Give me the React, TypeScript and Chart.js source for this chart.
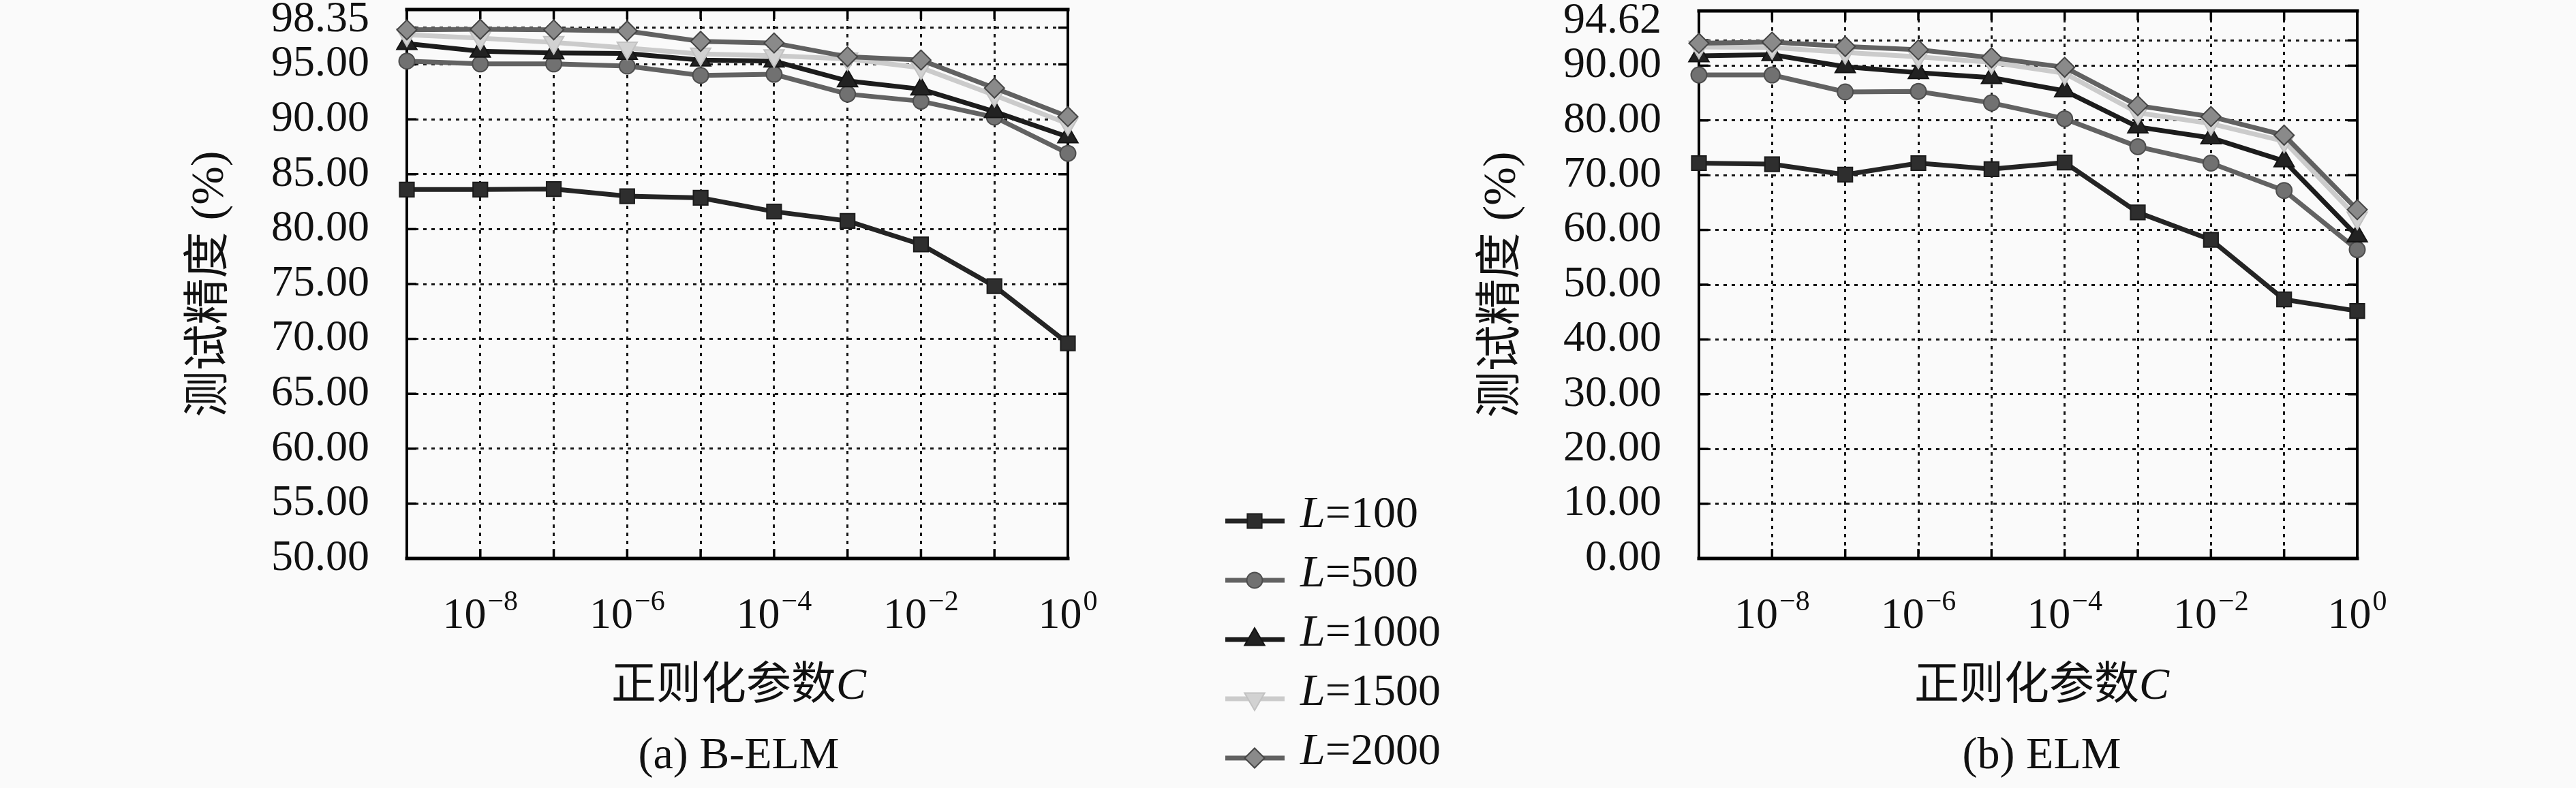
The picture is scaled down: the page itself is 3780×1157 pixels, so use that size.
import React, { useEffect, useRef } from "react";
import { Chart, registerables } from "chart.js";
import { drawPoint } from "chart.js/helpers";

Chart.register(...registerables);

// C = 10^exp
const exponents = [-9, -8, -7, -6, -5, -4, -3, -2, -1, 0];
const xLabelExps = [-8, -6, -4, -2, 0];
const hiddenNodes = ["100", "500", "1000", "1500", "2000"];

// (a) B-ELM
const belm100 = [83.6, 83.6, 83.65, 83.0, 82.85, 81.6, 80.75, 78.6, 74.8, 69.6];
const belm500 = [95.3, 95.05, 95.05, 94.85, 94.0, 94.1, 92.3, 91.65, 90.2, 86.9];
const belm1000 = [96.9, 96.2, 96.05, 96.0, 95.4, 95.3, 93.5, 92.75, 90.7, 88.4];
const belm1500 = [97.7, 97.4, 97.0, 96.5, 95.95, 95.8, 95.5, 94.7, 92.2, 89.6];
const belm2000 = [98.15, 98.2, 98.15, 98.05, 97.1, 96.95, 95.7, 95.4, 92.85, 90.25];
const belmTicks = [50, 55, 60, 65, 70, 75, 80, 85, 90, 95, 98.35];

// (b) ELM
const elm100 = [72.2, 72.0, 70.1, 72.2, 71.1, 72.3, 63.2, 58.2, 47.3, 45.2];
const elm500 = [88.3, 88.3, 85.2, 85.3, 83.2, 80.3, 75.2, 72.2, 67.2, 56.4];
const elm1000 = [91.8, 92.0, 89.8, 88.7, 87.8, 85.4, 78.8, 76.8, 72.6, 58.9];
const elm1500 = [93.4, 93.3, 92.4, 91.6, 90.6, 88.6, 81.4, 79.4, 76.2, 62.2];
const elm2000 = [94.1, 94.3, 93.5, 92.9, 91.45, 89.7, 82.7, 80.7, 77.3, 63.7];
const elmTicks = [0, 10, 20, 30, 40, 50, 60, 70, 80, 90, 94.62];

const SERIF = "'Liberation Serif', 'Noto Sans CJK SC', serif";
const CJK = "'Noto Sans CJK SC', 'Liberation Serif', sans-serif";

const looks = [
  { line: "#242424", fill: "#2e2e2e", edge: "#1c1c1c", style: "rect", r: 15, rot: 0 },
  { line: "#626262", fill: "#717171", edge: "#4e4e4e", style: "circle", r: 11.5, rot: 0 },
  { line: "#1c1c1c", fill: "#222222", edge: "#141414", style: "triangle", r: 17, rot: 0 },
  { line: "#cbcbcb", fill: "#d2d2d2", edge: "#c2c2c2", style: "triangle", r: 17, rot: 180 },
  { line: "#616161", fill: "#8a8a8a", edge: "#454545", style: "rectRot", r: 14.5, rot: 0 },
];

function makeDatasets(series: number[][]) {
  return series.map((vals, i) => ({
    label: "L=" + hiddenNodes[i],
    data: vals.map((v, j) => ({ x: exponents[j], y: v })),
    borderColor: looks[i].line,
    backgroundColor: looks[i].fill,
    borderWidth: 7,
    pointStyle: looks[i].style,
    pointRadius: looks[i].r,
    pointRotation: looks[i].rot,
    pointBackgroundColor: looks[i].fill,
    pointBorderColor: looks[i].edge,
    pointBorderWidth: 2,
    tension: 0,
    clip: false,
    order: 4 - i,
  }));
}

// frame, inner tick marks, superscript tick labels, titles and legend
const decor = {
  id: "decor",
  beforeDatasetsDraw(chart: any) {
    const { ctx, chartArea: a, scales } = chart;
    const seg = (x1: number, y1: number, x2: number, y2: number) => {
      ctx.beginPath();
      ctx.moveTo(x1, y1);
      ctx.lineTo(x2, y2);
      ctx.stroke();
    };
    ctx.save();
    ctx.setLineDash([]);
    ctx.strokeStyle = "#000";
    ctx.lineWidth = 3.5;
    const tl = 14;
    scales.x.ticks.forEach((t: any) => {
      const x = scales.x.getPixelForValue(t.value);
      seg(x, a.bottom, x, a.bottom - tl);
      seg(x, a.top, x, a.top + tl);
    });
    scales.y.ticks.forEach((t: any) => {
      const y = scales.y.getPixelForValue(t.value);
      seg(a.left, y, a.left + tl, y);
      seg(a.right, y, a.right - tl, y);
    });
    ctx.lineCap = "square";
    ctx.lineWidth = 5;
    seg(a.left, a.top, a.right, a.top);
    seg(a.left, a.bottom, a.right, a.bottom);
    ctx.lineWidth = 4;
    seg(a.left, a.top, a.left, a.bottom);
    seg(a.right, a.top, a.right, a.bottom);
    ctx.restore();
  },
  afterDraw(chart: any, _args: any, opts: any) {
    const { ctx, chartArea: a, scales } = chart;
    ctx.save();
    ctx.fillStyle = "#111";
    ctx.textBaseline = "alphabetic";
    ctx.textAlign = "left";

    // x tick labels 10^n
    xLabelExps.forEach((e) => {
      const x = scales.x.getPixelForValue(e);
      const sup = e === 0 ? "0" : "\u2212" + Math.abs(e);
      ctx.font = "64px " + SERIF;
      const w1 = ctx.measureText("10").width;
      ctx.font = "42px " + SERIF;
      const w2 = ctx.measureText(sup).width;
      const x0 = x - (w1 + w2 + 2) / 2;
      ctx.font = "64px " + SERIF;
      ctx.fillText("10", x0, a.bottom + 102);
      ctx.font = "42px " + SERIF;
      ctx.fillText(sup, x0 + w1 + 2, a.bottom + 76);
    });

    const cx = (a.left + a.right) / 2 + (opts.dx || 0);

    // x title: 正则化参数C
    ctx.font = "66px " + CJK;
    const t1 = "正则化参数";
    const tw1 = ctx.measureText(t1).width;
    ctx.font = "italic 66px " + SERIF;
    const tw2 = ctx.measureText("C").width;
    const tx = cx - (tw1 + tw2) / 2;
    ctx.font = "66px " + CJK;
    ctx.fillText(t1, tx, a.bottom + 206);
    ctx.font = "italic 66px " + SERIF;
    ctx.fillText("C", tx + tw1, a.bottom + 206);

    // caption
    ctx.font = "66px " + SERIF;
    ctx.textAlign = "center";
    ctx.fillText(opts.caption, cx, a.bottom + 308);

    // legend
    if (opts.legend) {
      const lx = opts.legend.x;
      chart.data.datasets.forEach((ds: any, i: number) => {
        const y = opts.legend.y + i * opts.legend.step;
        ctx.setLineDash([]);
        ctx.strokeStyle = ds.borderColor;
        ctx.lineWidth = ds.borderWidth;
        ctx.beginPath();
        ctx.moveTo(lx, y);
        ctx.lineTo(lx + 87, y);
        ctx.stroke();
        ctx.fillStyle = ds.pointBackgroundColor;
        ctx.strokeStyle = ds.pointBorderColor;
        ctx.lineWidth = ds.pointBorderWidth;
        drawPoint(
          ctx,
          { pointStyle: ds.pointStyle, rotation: ds.pointRotation, radius: ds.pointRadius, borderWidth: ds.pointBorderWidth },
          lx + 43,
          y
        );
        const [name, rest] = ds.label.split("=");
        ctx.fillStyle = "#111";
        ctx.textAlign = "left";
        ctx.font = "italic 66px " + SERIF;
        ctx.fillText(name, lx + 110, y + 9);
        const nw = ctx.measureText(name).width;
        ctx.font = "66px " + SERIF;
        ctx.fillText("=" + rest, lx + 110 + nw, y + 9);
      });
    }
    ctx.restore();
  },
};

type Props = {
  series: number[][];
  yTicks: number[];
  yMin: number;
  left: number;
  width: number;
  pad: { left: number; right: number; top: number };
  caption: string;
  topLift: number;
  dx?: number;
  legend?: { x: number; y: number; step: number };
};

function LineChart({ series, yTicks, yMin, left, width, pad, caption, topLift, dx, legend }: Props) {
  const canvasRef = useRef<HTMLCanvasElement | null>(null);
  const chartRef = useRef<Chart | null>(null);

  useEffect(() => {
    if (!canvasRef.current) return;
    if (chartRef.current) chartRef.current.destroy();

    const gridLine = { color: "#161616", lineWidth: 3, drawTicks: false };
    const noBorder = { display: false, dash: [5, 7] };
    const topTick = yTicks[yTicks.length - 1];

    chartRef.current = new Chart(canvasRef.current, {
      type: "line",
      data: { datasets: makeDatasets(series) as any },
      options: {
        animation: false,
        responsive: false,
        maintainAspectRatio: false,
        layout: { autoPadding: false, padding: { left: pad.left, right: pad.right, top: pad.top, bottom: 0 } },
        plugins: {
          legend: { display: false },
          tooltip: { enabled: false },
          decor: { caption, dx, legend },
        } as any,
        scales: {
          x: {
            type: "linear",
            min: -9,
            max: 0,
            afterBuildTicks: (s: any) => {
              s.ticks = exponents.map((v) => ({ value: v }));
            },
            afterFit: (s: any) => {
              s.height = 337;
              s.paddingLeft = s.paddingRight = s.paddingTop = s.paddingBottom = 0;
            },
            ticks: { display: false },
            grid: gridLine,
            border: noBorder,
          },
          y: {
            type: "linear",
            min: yMin,
            max: 100,
            afterBuildTicks: (s: any) => {
              s.ticks = yTicks.map((v) => ({ value: v }));
            },
            afterFit: (s: any) => {
              s.width = 597;
              s.paddingLeft = s.paddingRight = s.paddingTop = s.paddingBottom = 0;
            },
            ticks: {
              autoSkip: false,
              padding: 55,
              color: "#111",
              // the top label sits a little above its grid line, as in the figure
              font: (c: any) =>
                c.tick && c.tick.value === topTick
                  ? { family: SERIF, size: 64, lineHeight: 2 * topLift + "px" }
                  : { family: SERIF, size: 64 },
              callback: (v: any) => {
                const s = Number(v).toFixed(2);
                return Number(v) === topTick ? [s, ""] : s;
              },
            },
            grid: gridLine,
            border: noBorder,
            title: {
              display: true,
              text: "测试精度 (%)",
              color: "#111",
              font: { family: SERIF, size: 68 },
              padding: { top: 268, bottom: 0 },
            },
          },
        },
      } as any,
      plugins: [decor as any],
    });

    return () => {
      if (chartRef.current) {
        chartRef.current.destroy();
        chartRef.current = null;
      }
    };
  }, []);

  return (
    <canvas
      ref={canvasRef}
      width={width}
      height={1157}
      style={{ position: "absolute", left, top: 0, width, height: 1157 }}
    />
  );
}

export default function App() {
  return (
    <div
      style={{
        position: "absolute",
        left: 0,
        top: 0,
        width: 3780,
        height: 1157,
        background: "#fafafa",
        overflow: "hidden",
      }}
    >
      <LineChart
        series={[belm100, belm500, belm1000, belm1500, belm2000]}
        yTicks={belmTicks}
        yMin={50}
        left={0}
        width={1700}
        pad={{ left: 0, right: 133, top: 14 }}
        caption="(a) B-ELM"
        topLift={11}
        dx={2}
      />
      <LineChart
        series={[elm100, elm500, elm1000, elm1500, elm2000]}
        yTicks={elmTicks}
        yMin={0}
        left={1700}
        width={2080}
        pad={{ left: 196, right: 321, top: 16 }}
        caption="(b) ELM"
        topLift={28}
        dx={20}
        legend={{ x: 98, y: 765, step: 87 }}
      />
    </div>
  );
}
